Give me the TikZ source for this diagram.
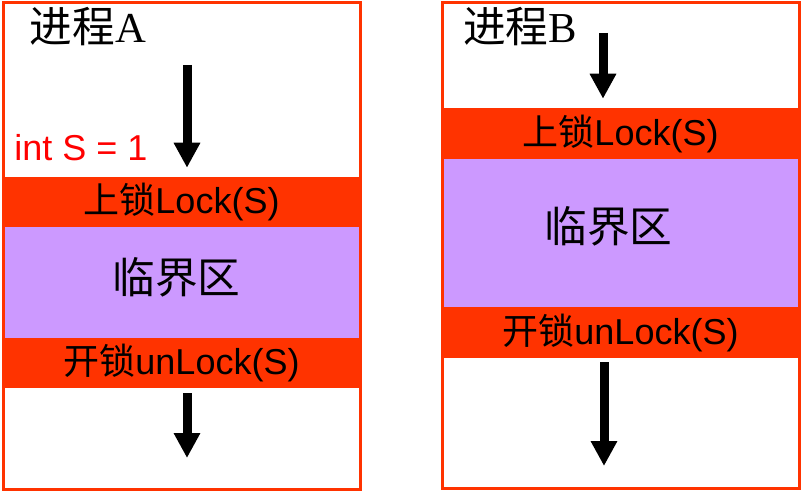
\documentclass[tikz,border=0pt]{standalone}
\usepackage{fontspec}
\usepackage{tikz}
\usetikzlibrary{arrows.meta}
\newfontfamily\cjkfont{Noto Sans CJK SC}
\newfontfamily\arialfont{Liberation Sans}
\newfontfamily\romanfont{Liberation Serif}
\definecolor{lockred}{HTML}{FF3300}
\definecolor{critpurple}{HTML}{CC99FF}
\newcommand{\zh}[1]{{\cjkfont #1}}

\begin{document}
\begin{tikzpicture}[x=0.75pt, y=-0.75pt,
    band/.style={fill=lockred, inner sep=0pt, minimum width=267.75pt, font=\fontsize{27}{30}\selectfont\arialfont},
    crit/.style={fill=critpurple, inner sep=0pt, minimum width=267.75pt},
    critlabel/.style={font=\fontsize{32}{36}\selectfont\cjkfont},
    frame/.style={draw=lockred, line width=2.25pt},
    flow/.style={line width=6.75pt, -{Triangle[width=18.75pt, length=18.75pt]}},
    title/.style={font=\fontsize{32}{36}\selectfont\romanfont}]
    \useasboundingbox (0,0) rectangle (801,492);

    % 1. Process A
    % lock, critical section and unlock bands
    \node[band, minimum height=37.5pt] (lockA) at (181.5,202) {\zh{上锁}Lock(S)};
    \node[crit, minimum height=83.25pt] (critA) at (181.5,282.5) {};
    \node[critlabel] (critTextA) at ([xshift=-3.75pt, yshift=3.75pt]critA.center) {临界区};
    \node[band, minimum height=37.5pt] (unlockA) at (181.5,363) {\zh{开锁}unLock(S)};
    % outer frame
    \draw[frame] (3,3) rectangle (360,489);
    \node[title] (nameA) at (88,27) {\zh{进程}A};
    \node[text=red, font=\fontsize{27}{30}\selectfont\arialfont] (initS) at (81,148) {int S = 1};
    % flow arrows
    \coordinate (inA) at (187,65);
    \coordinate (outA) at (187,458);
    \draw[flow, shorten >=6.75pt] (inA) -- (inA |- lockA.north);
    \draw[flow, shorten <=3.75pt] (outA |- unlockA.south) -- (outA);

    % 2. Process B
    \node[band, minimum height=38.25pt] (lockB) at (620.5,133.5) {\zh{上锁}Lock(S)};
    \node[crit, minimum height=111pt] (critB) at (620.5,233) {};
    \node[critlabel] (critTextB) at ([xshift=-9pt, yshift=5.25pt]critB.center) {临界区};
    \node[band, minimum height=38.25pt] (unlockB) at (620.5,332.5) {\zh{开锁}unLock(S)};
    \draw[frame] (442,3) rectangle (799,488);
    \node[title] (nameB) at (520,27) {\zh{进程}B};
    \coordinate (inB) at (603,33);
    \coordinate (outB) at (604,466);
    \draw[flow, shorten >=6.75pt] (inB) -- (inB |- lockB.north);
    \draw[flow, shorten <=3pt] (outB |- unlockB.south) -- (outB);

\end{tikzpicture}
\end{document}
